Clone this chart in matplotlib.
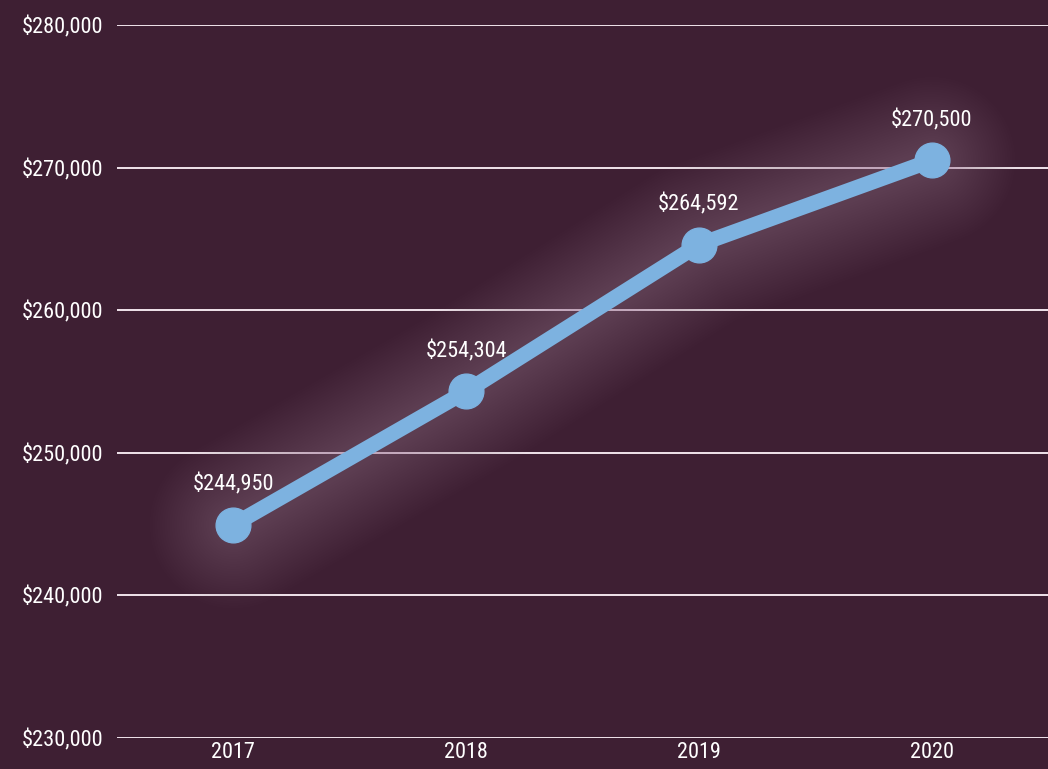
import matplotlib.pyplot as plt
from matplotlib import font_manager

years = ["2017", "2018", "2019", "2020"]
prices = [244950, 254304, 264592, 270500]
y_ticks = [230000, 240000, 250000, 260000, 270000, 280000]

bg = "#3e1f33"
line_color = "#7db2e0"

names = {f.name for f in font_manager.fontManager.ttflist}
family = [f for f in ["Roboto Condensed", "Liberation Sans Narrow", "DejaVu Sans"] if f in names] or ["DejaVu Sans"]
plt.rcParams["font.family"] = family

fig = plt.figure(figsize=(10.48, 7.69), dpi=100, facecolor=bg)
ax = fig.add_axes([117 / 1048, 31 / 769, 931 / 1048, 713 / 769])
ax.set_facecolor(bg)

x = list(range(len(years)))

# soft glow behind the line: many wide translucent strokes
for i in range(30):
    lw = 120 - i * 3.5
    ax.plot(x, prices, color="#a07898", lw=lw, alpha=0.02, solid_capstyle="round", zorder=2)

ax.plot(x, prices, color=line_color, lw=11, marker="o", markersize=25,
        solid_capstyle="round", zorder=4)

for xi, v in zip(x, prices):
    ax.annotate(f"${v:,}", (xi, v), xytext=(0, 21), textcoords="offset points",
                ha="center", va="bottom", color="white", fontsize=16, zorder=5)

ax.set_xlim(-0.5, 3.5)
ax.set_ylim(230000, 280000)
for t in y_ticks:
    ax.axhline(t, color="#f0e4ec", lw=1.4, zorder=1)

ax.set_yticks(y_ticks)
ax.set_yticklabels([f"${t:,}" for t in y_ticks])
ax.set_xticks(x)
ax.set_xticklabels(years)
ax.tick_params(length=0, colors="white", labelsize=16)
ax.tick_params(axis="y", pad=10)
ax.tick_params(axis="x", pad=3)
for s in ax.spines.values():
    s.set_visible(False)

fig.savefig("out.png", dpi=100, facecolor=bg)
